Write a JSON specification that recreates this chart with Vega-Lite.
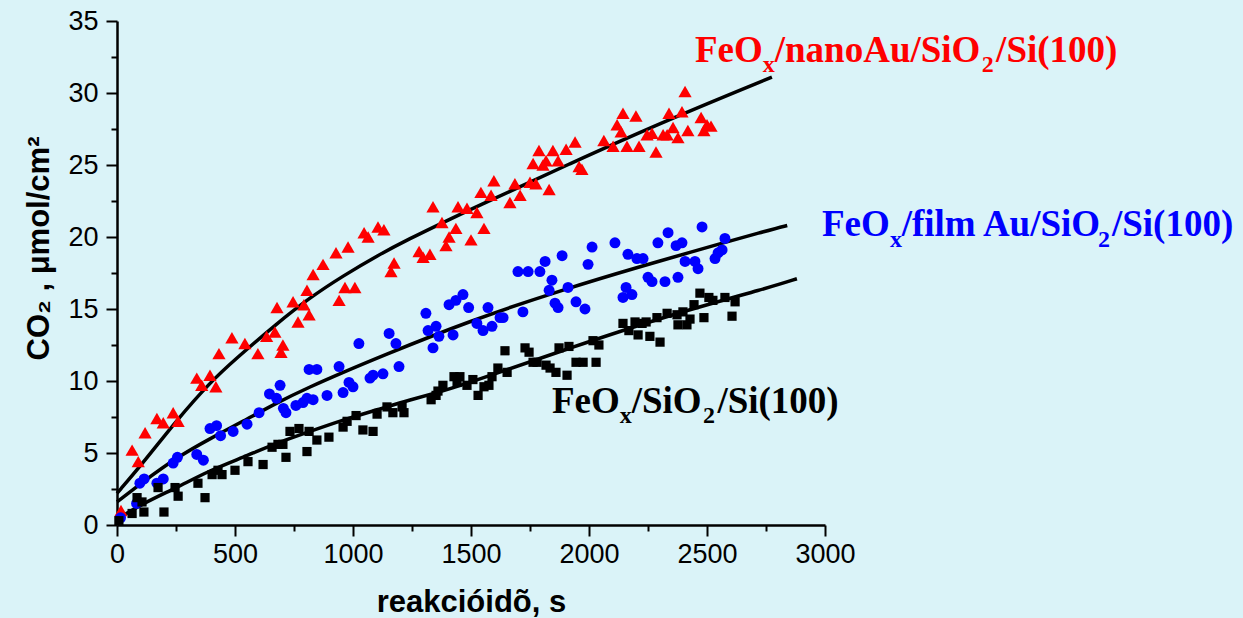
{
"$schema": "https://vega.github.io/schema/vega-lite/v6.json",
"width": 708, "height": 504,
"autosize": {"type": "none"},
"padding": {"left": 117, "top": 21, "right": 418, "bottom": 93},
"background": "#daf3f8",
"config": {"view": {"stroke": null}},
"datasets": {
"pts": [
{"series":"nano","t":17,"v":1.0},{"series":"nano","t":64,"v":5.2},{"series":"nano","t":90,"v":4.4},{"series":"nano","t":119,"v":6.4},{"series":"nano","t":169,"v":7.4},{"series":"nano","t":196,"v":7.1},{"series":"nano","t":238,"v":7.8},{"series":"nano","t":259,"v":7.2},{"series":"nano","t":338,"v":10.2},{"series":"nano","t":359,"v":9.7},{"series":"nano","t":394,"v":10.4},{"series":"nano","t":419,"v":9.6},{"series":"nano","t":432,"v":11.9},{"series":"nano","t":487,"v":13.0},{"series":"nano","t":542,"v":12.6},{"series":"nano","t":597,"v":11.9},{"series":"nano","t":634,"v":13.1},{"series":"nano","t":669,"v":13.4},{"series":"nano","t":678,"v":15.1},{"series":"nano","t":695,"v":12.0},{"series":"nano","t":703,"v":12.5},{"series":"nano","t":746,"v":15.5},{"series":"nano","t":767,"v":14.1},{"series":"nano","t":792,"v":15.3},{"series":"nano","t":805,"v":16.3},{"series":"nano","t":814,"v":14.6},{"series":"nano","t":831,"v":17.4},{"series":"nano","t":873,"v":18.1},{"series":"nano","t":928,"v":18.9},{"series":"nano","t":941,"v":15.6},{"series":"nano","t":966,"v":16.5},{"series":"nano","t":979,"v":19.3},{"series":"nano","t":1008,"v":16.5},{"series":"nano","t":1047,"v":20.3},{"series":"nano","t":1064,"v":20.0},{"series":"nano","t":1106,"v":20.7},{"series":"nano","t":1131,"v":20.5},{"series":"nano","t":1161,"v":17.6},{"series":"nano","t":1174,"v":18.2},{"series":"nano","t":1280,"v":19.0},{"series":"nano","t":1297,"v":18.6},{"series":"nano","t":1326,"v":18.8},{"series":"nano","t":1339,"v":22.1},{"series":"nano","t":1377,"v":21.0},{"series":"nano","t":1394,"v":19.4},{"series":"nano","t":1407,"v":20.0},{"series":"nano","t":1436,"v":20.6},{"series":"nano","t":1445,"v":22.1},{"series":"nano","t":1483,"v":22.0},{"series":"nano","t":1500,"v":19.8},{"series":"nano","t":1525,"v":21.7},{"series":"nano","t":1542,"v":23.1},{"series":"nano","t":1555,"v":20.6},{"series":"nano","t":1585,"v":22.9},{"series":"nano","t":1597,"v":23.9},{"series":"nano","t":1665,"v":22.4},{"series":"nano","t":1686,"v":23.7},{"series":"nano","t":1708,"v":22.9},{"series":"nano","t":1750,"v":23.8},{"series":"nano","t":1763,"v":25.1},{"series":"nano","t":1775,"v":23.7},{"series":"nano","t":1788,"v":26.0},{"series":"nano","t":1805,"v":25.0},{"series":"nano","t":1818,"v":25.3},{"series":"nano","t":1831,"v":23.3},{"series":"nano","t":1847,"v":26.0},{"series":"nano","t":1869,"v":25.3},{"series":"nano","t":1903,"v":26.1},{"series":"nano","t":1941,"v":26.6},{"series":"nano","t":1958,"v":24.9},{"series":"nano","t":1970,"v":24.7},{"series":"nano","t":2063,"v":26.7},{"series":"nano","t":2102,"v":26.3},{"series":"nano","t":2119,"v":27.8},{"series":"nano","t":2136,"v":27.3},{"series":"nano","t":2144,"v":28.6},{"series":"nano","t":2161,"v":26.3},{"series":"nano","t":2199,"v":28.4},{"series":"nano","t":2212,"v":26.3},{"series":"nano","t":2246,"v":27.1},{"series":"nano","t":2267,"v":27.2},{"series":"nano","t":2284,"v":25.9},{"series":"nano","t":2314,"v":27.1},{"series":"nano","t":2331,"v":27.1},{"series":"nano","t":2339,"v":28.6},{"series":"nano","t":2356,"v":27.6},{"series":"nano","t":2377,"v":26.9},{"series":"nano","t":2394,"v":28.7},{"series":"nano","t":2407,"v":30.1},{"series":"nano","t":2419,"v":27.4},{"series":"nano","t":2475,"v":28.3},{"series":"nano","t":2487,"v":27.4},{"series":"nano","t":2500,"v":27.8},{"series":"nano","t":2517,"v":27.7},
{"series":"film","t":15,"v":0.5},{"series":"film","t":83,"v":1.5},{"series":"film","t":97,"v":2.9},{"series":"film","t":115,"v":3.2},{"series":"film","t":169,"v":2.9},{"series":"film","t":196,"v":3.2},{"series":"film","t":238,"v":4.3},{"series":"film","t":256,"v":4.7},{"series":"film","t":338,"v":4.9},{"series":"film","t":366,"v":4.5},{"series":"film","t":394,"v":6.7},{"series":"film","t":422,"v":6.9},{"series":"film","t":439,"v":6.2},{"series":"film","t":492,"v":6.5},{"series":"film","t":551,"v":7.0},{"series":"film","t":602,"v":7.8},{"series":"film","t":646,"v":9.1},{"series":"film","t":676,"v":8.8},{"series":"film","t":691,"v":9.7},{"series":"film","t":705,"v":8.1},{"series":"film","t":716,"v":7.8},{"series":"film","t":758,"v":8.3},{"series":"film","t":788,"v":8.5},{"series":"film","t":805,"v":8.8},{"series":"film","t":814,"v":10.8},{"series":"film","t":831,"v":8.7},{"series":"film","t":847,"v":10.8},{"series":"film","t":890,"v":9.0},{"series":"film","t":941,"v":11.0},{"series":"film","t":958,"v":9.2},{"series":"film","t":983,"v":9.9},{"series":"film","t":1000,"v":9.6},{"series":"film","t":1025,"v":12.6},{"series":"film","t":1072,"v":10.2},{"series":"film","t":1085,"v":10.4},{"series":"film","t":1127,"v":10.5},{"series":"film","t":1153,"v":13.3},{"series":"film","t":1182,"v":12.6},{"series":"film","t":1195,"v":11.0},{"series":"film","t":1309,"v":14.7},{"series":"film","t":1318,"v":13.5},{"series":"film","t":1339,"v":12.3},{"series":"film","t":1352,"v":13.8},{"series":"film","t":1364,"v":13.1},{"series":"film","t":1407,"v":15.3},{"series":"film","t":1424,"v":13.2},{"series":"film","t":1436,"v":15.6},{"series":"film","t":1466,"v":16.0},{"series":"film","t":1490,"v":15.1},{"series":"film","t":1525,"v":14.0},{"series":"film","t":1551,"v":13.5},{"series":"film","t":1572,"v":15.1},{"series":"film","t":1589,"v":13.8},{"series":"film","t":1623,"v":14.4},{"series":"film","t":1636,"v":14.4},{"series":"film","t":1699,"v":17.6},{"series":"film","t":1720,"v":14.8},{"series":"film","t":1742,"v":17.6},{"series":"film","t":1792,"v":17.6},{"series":"film","t":1814,"v":18.3},{"series":"film","t":1831,"v":16.3},{"series":"film","t":1843,"v":17.0},{"series":"film","t":1856,"v":15.4},{"series":"film","t":1869,"v":15.1},{"series":"film","t":1886,"v":18.7},{"series":"film","t":1911,"v":16.5},{"series":"film","t":1945,"v":15.5},{"series":"film","t":1983,"v":15.0},{"series":"film","t":1996,"v":18.1},{"series":"film","t":2013,"v":19.3},{"series":"film","t":2110,"v":19.6},{"series":"film","t":2144,"v":15.8},{"series":"film","t":2157,"v":16.5},{"series":"film","t":2165,"v":18.8},{"series":"film","t":2182,"v":16.0},{"series":"film","t":2203,"v":18.5},{"series":"film","t":2229,"v":18.5},{"series":"film","t":2250,"v":17.2},{"series":"film","t":2267,"v":16.9},{"series":"film","t":2292,"v":19.6},{"series":"film","t":2322,"v":16.9},{"series":"film","t":2335,"v":20.3},{"series":"film","t":2369,"v":19.4},{"series":"film","t":2377,"v":17.2},{"series":"film","t":2394,"v":19.6},{"series":"film","t":2407,"v":18.3},{"series":"film","t":2449,"v":18.3},{"series":"film","t":2462,"v":17.8},{"series":"film","t":2479,"v":20.7},{"series":"film","t":2534,"v":18.5},{"series":"film","t":2547,"v":18.9},{"series":"film","t":2564,"v":19.1},{"series":"film","t":2576,"v":19.9},
{"series":"bare","t":8,"v":0.3},{"series":"bare","t":64,"v":0.8},{"series":"bare","t":85,"v":1.9},{"series":"bare","t":106,"v":1.6},{"series":"bare","t":114,"v":0.9},{"series":"bare","t":174,"v":2.6},{"series":"bare","t":199,"v":0.9},{"series":"bare","t":246,"v":2.6},{"series":"bare","t":259,"v":2.0},{"series":"bare","t":343,"v":2.9},{"series":"bare","t":373,"v":1.9},{"series":"bare","t":403,"v":3.5},{"series":"bare","t":428,"v":3.8},{"series":"bare","t":445,"v":3.5},{"series":"bare","t":500,"v":3.8},{"series":"bare","t":555,"v":4.4},{"series":"bare","t":619,"v":4.2},{"series":"bare","t":657,"v":5.4},{"series":"bare","t":682,"v":5.6},{"series":"bare","t":703,"v":5.6},{"series":"bare","t":716,"v":4.7},{"series":"bare","t":733,"v":6.5},{"series":"bare","t":771,"v":6.7},{"series":"bare","t":805,"v":5.1},{"series":"bare","t":814,"v":6.5},{"series":"bare","t":847,"v":5.9},{"series":"bare","t":898,"v":6.1},{"series":"bare","t":958,"v":6.8},{"series":"bare","t":975,"v":7.2},{"series":"bare","t":1013,"v":7.6},{"series":"bare","t":1042,"v":6.6},{"series":"bare","t":1085,"v":6.5},{"series":"bare","t":1102,"v":7.7},{"series":"bare","t":1144,"v":8.2},{"series":"bare","t":1169,"v":7.8},{"series":"bare","t":1208,"v":8.2},{"series":"bare","t":1216,"v":7.8},{"series":"bare","t":1331,"v":8.7},{"series":"bare","t":1352,"v":9.0},{"series":"bare","t":1360,"v":9.3},{"series":"bare","t":1381,"v":9.7},{"series":"bare","t":1428,"v":10.3},{"series":"bare","t":1441,"v":9.9},{"series":"bare","t":1453,"v":10.3},{"series":"bare","t":1483,"v":9.7},{"series":"bare","t":1508,"v":10.1},{"series":"bare","t":1530,"v":9.0},{"series":"bare","t":1555,"v":9.6},{"series":"bare","t":1576,"v":9.7},{"series":"bare","t":1589,"v":10.3},{"series":"bare","t":1614,"v":10.9},{"series":"bare","t":1644,"v":12.1},{"series":"bare","t":1653,"v":10.6},{"series":"bare","t":1729,"v":12.3},{"series":"bare","t":1746,"v":12.0},{"series":"bare","t":1763,"v":11.3},{"series":"bare","t":1780,"v":11.3},{"series":"bare","t":1818,"v":11.1},{"series":"bare","t":1835,"v":10.9},{"series":"bare","t":1860,"v":10.6},{"series":"bare","t":1873,"v":12.3},{"series":"bare","t":1907,"v":10.4},{"series":"bare","t":1915,"v":12.4},{"series":"bare","t":1945,"v":11.3},{"series":"bare","t":1975,"v":11.3},{"series":"bare","t":2017,"v":12.8},{"series":"bare","t":2030,"v":11.3},{"series":"bare","t":2042,"v":12.5},{"series":"bare","t":2144,"v":14.0},{"series":"bare","t":2169,"v":13.5},{"series":"bare","t":2195,"v":14.1},{"series":"bare","t":2208,"v":13.2},{"series":"bare","t":2225,"v":14.0},{"series":"bare","t":2242,"v":14.1},{"series":"bare","t":2258,"v":13.1},{"series":"bare","t":2288,"v":14.4},{"series":"bare","t":2301,"v":12.7},{"series":"bare","t":2331,"v":14.7},{"series":"bare","t":2373,"v":14.6},{"series":"bare","t":2377,"v":13.9},{"series":"bare","t":2398,"v":14.8},{"series":"bare","t":2415,"v":13.9},{"series":"bare","t":2428,"v":14.3},{"series":"bare","t":2445,"v":15.3},{"series":"bare","t":2470,"v":16.1},{"series":"bare","t":2487,"v":14.4},{"series":"bare","t":2508,"v":15.8},{"series":"bare","t":2525,"v":15.6},{"series":"bare","t":2576,"v":15.8},{"series":"bare","t":2606,"v":14.5},{"series":"bare","t":2619,"v":15.5}
],
"fit": [
{"series":"nano","t":0,"v":2.2},{"series":"nano","t":110,"v":4.3},{"series":"nano","t":254,"v":7.3},{"series":"nano","t":394,"v":9.9},{"series":"nano","t":500,"v":11.5},{"series":"nano","t":678,"v":14.0},{"series":"nano","t":818,"v":15.8},{"series":"nano","t":958,"v":17.3},{"series":"nano","t":1102,"v":18.7},{"series":"nano","t":1242,"v":19.9},{"series":"nano","t":1381,"v":21.0},{"series":"nano","t":1496,"v":21.9},{"series":"nano","t":1919,"v":25.1},{"series":"nano","t":2343,"v":28.2},{"series":"nano","t":2775,"v":31.1},
{"series":"film","t":0,"v":1.6},{"series":"film","t":110,"v":3.0},{"series":"film","t":254,"v":4.7},{"series":"film","t":394,"v":6.0},{"series":"film","t":534,"v":7.2},{"series":"film","t":678,"v":8.5},{"series":"film","t":818,"v":9.6},{"series":"film","t":958,"v":10.6},{"series":"film","t":1102,"v":11.6},{"series":"film","t":1496,"v":14.2},{"series":"film","t":1919,"v":16.5},{"series":"film","t":2229,"v":18.0},{"series":"film","t":2398,"v":18.8},{"series":"film","t":2767,"v":20.5},{"series":"film","t":2840,"v":20.8},
{"series":"bare","t":0,"v":0.4},{"series":"bare","t":110,"v":1.5},{"series":"bare","t":254,"v":2.6},{"series":"bare","t":394,"v":3.8},{"series":"bare","t":534,"v":4.7},{"series":"bare","t":678,"v":5.7},{"series":"bare","t":818,"v":6.5},{"series":"bare","t":958,"v":7.3},{"series":"bare","t":1102,"v":8.0},{"series":"bare","t":1242,"v":8.7},{"series":"bare","t":1381,"v":9.3},{"series":"bare","t":1496,"v":9.9},{"series":"bare","t":1919,"v":12.3},{"series":"bare","t":2343,"v":14.6},{"series":"bare","t":2767,"v":16.5},{"series":"bare","t":2881,"v":17.1}
],
"labels": [
{"series":"nano","role":"main","t":2449,"v":32.15,"txt":"FeO"},{"series":"nano","role":"sub","t":2736,"v":31.46,"txt":"x"},{"series":"nano","role":"main","t":2787,"v":32.15,"txt":"/nanoAu/SiO"},{"series":"nano","role":"sub","t":3664,"v":31.46,"txt":"2"},{"series":"nano","role":"main","t":3725,"v":32.15,"txt":"/Si(100)"},
{"series":"film","role":"main","t":2987,"v":20.07,"txt":"FeO"},{"series":"film","role":"sub","t":3275,"v":19.31,"txt":"x"},{"series":"film","role":"main","t":3325,"v":20.07,"txt":"/film Au/SiO"},{"series":"film","role":"sub","t":4157,"v":19.31,"txt":"2"},{"series":"film","role":"main","t":4216,"v":20.07,"txt":"/Si(100)"},
{"series":"bare","role":"main","t":1843,"v":7.78,"txt":"FeO"},{"series":"bare","role":"sub","t":2130,"v":7.08,"txt":"x"},{"series":"bare","role":"main","t":2181,"v":7.78,"txt":"/SiO"},{"series":"bare","role":"sub","t":2483,"v":7.08,"txt":"2"},{"series":"bare","role":"main","t":2544,"v":7.78,"txt":"/Si(100)"}
]
},
"encoding": {
"x": {"field": "t", "type": "quantitative",
 "scale": {"domain": [0, 3000], "nice": false, "zero": false},
 "axis": {"title": "reakcióidõ, s", "values": [0,250,500,750,1000,1250,1500,1750,2000,2250,2500,2750,3000],
  "format": "d", "labelExpr": "datum.value % 500 === 0 ? datum.label : ''",
  "tickSize": {"condition": {"test": "datum.value % 500 === 0", "value": 11}, "value": 6},
  "grid": false, "labelOverlap": false, "labelFlush": false, "labelBound": false,
  "labelFont": "Liberation Sans", "labelFontSize": 27, "labelColor": "#000000", "labelPadding": 5,
  "domainColor": "#000000", "domainWidth": 2.5, "tickColor": "#000000", "tickWidth": 2,
  "titleFont": "Liberation Sans", "titleFontSize": 31, "titleFontWeight": "bold", "titleColor": "#000000",
  "titleBaseline": "alphabetic", "titleY": 86}},
"y": {"field": "v", "type": "quantitative",
 "scale": {"domain": [0, 35], "nice": false},
 "axis": {"title": "CO₂ , μmol/cm²", "values": [0,2.5,5,7.5,10,12.5,15,17.5,20,22.5,25,27.5,30,32.5,35],
  "format": "d", "labelExpr": "datum.value % 5 === 0 ? datum.label : ''",
  "tickSize": {"condition": {"test": "datum.value % 5 === 0", "value": 11}, "value": 6},
  "grid": false, "labelOverlap": false, "labelFlush": false, "labelBound": false,
  "labelFont": "Liberation Sans", "labelFontSize": 27, "labelColor": "#000000", "labelPadding": 8,
  "domainColor": "#000000", "domainWidth": 2.5, "tickColor": "#000000", "tickWidth": 2,
  "titleFont": "Liberation Sans", "titleFontSize": 31, "titleFontWeight": "bold", "titleColor": "#000000",
  "titleBaseline": "alphabetic", "titleAngle": 270, "titleAlign": "center", "titleX": -69, "titleY": 227}}
},
"layer": [
{"data": {"name": "fit"}, "mark": {"type": "line", "color": "#000000", "strokeWidth": 3.5, "interpolate": "basis"},
 "encoding": {"detail": {"field": "series"}}},
{"data": {"name": "pts"}, "transform": [{"filter": "datum.series === 'nano'"}],
 "mark": {"type": "point", "shape": "triangle-up", "filled": true, "color": "#ff0000", "size": 175, "opacity": 1}},
{"data": {"name": "pts"}, "transform": [{"filter": "datum.series === 'film'"}],
 "mark": {"type": "point", "shape": "circle", "filled": true, "color": "#0000ff", "size": 120, "opacity": 1}},
{"data": {"name": "pts"}, "transform": [{"filter": "datum.series === 'bare'"}],
 "mark": {"type": "point", "shape": "square", "filled": true, "color": "#000000", "size": 85, "opacity": 1}},
{"data": {"name": "labels"}, "transform": [{"filter": "datum.role === 'main'"}],
 "mark": {"type": "text", "align": "left", "baseline": "alphabetic", "font": "Liberation Serif", "fontWeight": "bold", "fontSize": 37},
 "encoding": {"text": {"field": "txt"}, "color": {"field": "series", "type": "nominal", "scale": {"domain": ["nano","film","bare"], "range": ["#ff0000","#0000ff","#000000"]}, "legend": null}}},
{"data": {"name": "labels"}, "transform": [{"filter": "datum.role === 'sub'"}],
 "mark": {"type": "text", "align": "left", "baseline": "alphabetic", "font": "Liberation Serif", "fontWeight": "bold", "fontSize": 24},
 "encoding": {"text": {"field": "txt"}, "color": {"field": "series", "type": "nominal", "scale": {"domain": ["nano","film","bare"], "range": ["#ff0000","#0000ff","#000000"]}, "legend": null}}}
]
}
